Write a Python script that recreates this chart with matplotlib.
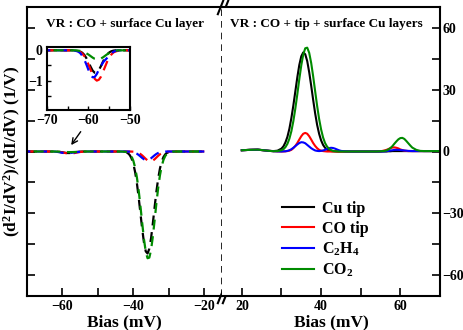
import matplotlib
matplotlib.use('Agg')
import matplotlib.pyplot as plt
from matplotlib.ticker import MultipleLocator

plt.rcParams['font.family'] = ['Liberation Serif', 'DejaVu Serif']
plt.rcParams['font.weight'] = 'bold'
plt.rcParams['axes.labelweight'] = 'bold'
plt.rcParams['mathtext.fontset'] = 'custom'
plt.rcParams['mathtext.rm'] = 'Liberation Serif:bold'
plt.rcParams['mathtext.bf'] = 'Liberation Serif:bold'
plt.rcParams['mathtext.it'] = 'Liberation Serif:bold:italic'
plt.rcParams['mathtext.default'] = 'rm'

# ---- data: negative bias (VR : CO + surface Cu layer) ----
bias_neg = [-70, -68, -66, -64,
            -63, -62.5, -62, -61.5, -61, -60.5, -60, -59.5, -59, -58.5, -58,
            -57.5, -57, -56.5, -56, -55.5, -55, -54.5, -54, -53.5, -53,
            -52, -50, -48, -46, -44, -43,
            -42, -41.5, -41, -40.5, -40, -39.5, -39, -38.5, -38, -37.5, -37,
            -36.5, -36, -35.5, -35, -34.5, -34, -33.5, -33, -32.5, -32, -31.5,
            -31, -30.5, -30,
            -29, -28, -26, -24, -22, -20]

cu_neg = [0, 0, 0, 0,
          -0.01, -0.01, -0.04, -0.08, -0.15, -0.26, -0.39, -0.54, -0.67, -0.74, -0.74,
          -0.65, -0.52, -0.37, -0.23, -0.13, -0.07, -0.03, -0.01, 0, 0,
          0, 0, 0, 0, 0, -0.07,
          -0.40, -0.87, -1.78, -3.39, -6.02, -9.98, -15.4, -22.3, -30.0, -37.7, -44.2,
          -48.4, -49.4, -47.1, -41.9, -34.7, -26.9, -19.4, -13.1, -8.22, -4.83, -2.64,
          -1.35, -0.64, -0.29,
          -0.05, 0, 0, 0, 0, 0]

co_neg = [0, 0, 0, 0,
          -0.01, -0.03, -0.05, -0.11, -0.19, -0.31, -0.47, -0.64, -0.81, -0.94, -1.00,
          -0.97, -0.87, -0.71, -0.54, -0.37, -0.23, -0.14, -0.07, -0.04, -0.02,
          0, 0, 0, 0, 0, 0,
          0, 0, -0.01, -0.04, -0.09, -0.20, -0.39, -0.73, -1.24, -1.92, -2.74,
          -3.58, -4.30, -4.73, -4.77, -4.41, -3.74, -2.91, -2.08, -1.36, -0.82, -0.45,
          -0.23, -0.11, -0.04,
          0, 0, 0, 0, 0, 0]

c2h4_neg = [0, 0, 0, 0,
            -0.02, -0.04, -0.09, -0.18, -0.31, -0.47, -0.65, -0.81, -0.89, -0.88, -0.78,
            -0.64, -0.52, -0.40, -0.32, -0.25, -0.17, -0.10, -0.05, -0.02, 0,
            0, 0, 0, 0, 0, 0,
            -0.01, -0.03, -0.08, -0.17, -0.35, -0.64, -1.08, -1.68, -2.40, -3.14, -3.76,
            -4.14, -4.17, -3.86, -3.27, -2.55, -1.82, -1.19, -0.71, -0.39, -0.20, -0.09,
            -0.04, 0, 0,
            0, 0, 0, 0, 0, 0]

co2_neg = [0, 0, 0, 0,
           0, -0.01, -0.02, -0.04, -0.06, -0.10, -0.14, -0.19, -0.24, -0.28, -0.30,
           -0.30, -0.27, -0.23, -0.18, -0.13, -0.09, -0.06, -0.03, -0.02, 0,
           0, 0, 0, 0, 0, -0.04,
           -0.25, -0.58, -1.23, -2.44, -4.52, -7.81, -12.6, -18.9, -26.6, -34.8, -42.6,
           -48.6, -51.7, -51.4, -47.6, -41.1, -33.2, -25.0, -17.6, -11.5, -7.04, -4.01,
           -2.14, -1.06, -0.49,
           -0.09, 0, 0, 0, 0, 0]

# ---- data: positive bias (VR : CO + tip + surface Cu layers) ----
bias_pos = [20, 22, 24, 26, 27, 28, 29,
            30, 30.5, 31, 31.5, 32, 32.5, 33, 33.5, 34, 34.5, 35, 35.5, 36, 36.5,
            37, 37.5, 38, 38.5, 39, 39.5, 40, 40.5, 41, 41.5, 42, 42.5, 43, 43.5,
            44, 44.5, 45,
            46, 48, 50, 52, 54, 55,
            56, 56.5, 57, 57.5, 58, 58.5, 59, 59.5, 60, 60.5, 61, 61.5, 62, 62.5, 63,
            64, 65, 66, 68, 70]

cu_pos = [0.6, 0.8, 0.9, 0.5, 0.3, 0.2, 0.4,
          1.4, 2.5, 4.4, 7.1, 11.0, 16.2, 22.3, 29.1, 35.9, 41.9, 46.1, 48.0, 47.1, 43.8,
          38.4, 31.9, 25.0, 18.5, 12.9, 8.6, 5.4, 3.2, 1.8, 0.9, 0.5, 0.2, 0.1, 0.1,
          0, 0, 0,
          0, 0, 0, 0, 0, 0,
          0, 0, 0.1, 0.1, 0.2, 0.2, 0.2, 0.2, 0.2, 0.2, 0.2, 0.2, 0.2, 0.2, 0.2,
          0.2, 0.2, 0.2, 0.2, 0.2]

co_pos = [0.6, 0.8, 0.9, 0.5, 0.3, 0.15, 0.05,
          0, 0, 0.1, 0.2, 0.4, 0.8, 1.6, 2.7, 4.1, 5.8, 7.4, 8.6, 9.0, 8.6,
          7.4, 5.8, 4.1, 2.7, 1.6, 0.8, 0.4, 0.2, 0.1, 0, 0, 0, 0, 0,
          0, 0, 0,
          0, 0, 0, 0, 0, 0.1,
          0.5, 0.8, 1.2, 1.6, 1.9, 2.0, 1.8, 1.5, 1.0, 0.7, 0.4, 0.3, 0.2, 0.2, 0.2,
          0.2, 0.2, 0.2, 0.2, 0.2]

c2h4_pos = [0.6, 0.8, 0.9, 0.5, 0.3, 0.15, 0.05,
            0, 0.1, 0.1, 0.3, 0.6, 1.1, 1.8, 2.6, 3.4, 4.1, 4.5, 4.4, 4.0, 3.2,
            2.4, 1.6, 1.0, 0.5, 0.3, 0.2, 0.3, 0.5, 0.8, 1.3, 1.6, 1.8, 1.7, 1.4,
            1.0, 0.6, 0.3,
            0.1, 0, 0, 0, 0, 0,
            0.1, 0.2, 0.3, 0.5, 0.6, 0.8, 0.8, 0.8, 0.7, 0.6, 0.5, 0.4, 0.3, 0.25, 0.2,
            0.2, 0.2, 0.2, 0.2, 0.2]

co2_pos = [0.6, 0.8, 0.9, 0.5, 0.3, 0.15, 0.2,
           0.6, 1.1, 2.1, 3.7, 6.2, 9.8, 14.7, 20.8, 27.7, 35.0, 41.7, 47.0, 50.0, 50.3,
           47.8, 42.9, 36.4, 29.2, 22.1, 15.8, 10.7, 6.8, 4.1, 2.4, 1.3, 0.7, 0.3, 0.1,
           0.1, 0, 0,
           0, 0, 0, 0, 0, 0.1,
           0.3, 0.5, 1.0, 1.7, 2.6, 3.8, 4.9, 5.9, 6.5, 6.6, 6.1, 5.1, 4.0, 2.9, 1.9,
           0.8, 0.3, 0.2, 0.2, 0.2]

labels = ['Cu tip', 'CO tip', 'C$_2$H$_4$', 'CO$_2$']
colors = ['black', 'red', 'blue', '#008b00']
neg_series = [cu_neg, co_neg, c2h4_neg, co2_neg]
pos_series = [cu_pos, co_pos, c2h4_pos, co2_pos]

W, H = 463, 330
fig = plt.figure(figsize=(W / 100, H / 100), dpi=100)
axL = fig.add_axes([27 / W, 34 / H, 195 / W, 289 / H])
axR = fig.add_axes([222 / W, 34 / H, 218 / W, 289 / H])
axI = fig.add_axes([47 / W, 220 / H, 83 / W, 63 / H])

# dashed curves: offset the dash phase per curve so the colours interleave
for i, (ys, c) in enumerate(zip(neg_series, colors)):
    dash = (i * 1.5, (4.5, 3))
    axL.plot(bias_neg, ys, color=c, lw=1.6, linestyle=dash)
    axI.plot(bias_neg, ys, color=c, lw=1.6, linestyle=dash)
for ys, c, lab in zip(pos_series, colors, labels):
    axR.plot(bias_pos, ys, color=c, lw=1.5, label=lab)

for ax in (axL, axR, axI):
    for sp in ax.spines.values():
        sp.set_linewidth(1.5)

# left panel
axL.set_xlim(-70, -15)
axL.set_ylim(-70, 70)
axL.spines['right'].set_visible(False)
axL.xaxis.set_major_locator(MultipleLocator(20))
axL.xaxis.set_minor_locator(MultipleLocator(10))
axL.yaxis.set_major_locator(MultipleLocator(30))
axL.yaxis.set_minor_locator(MultipleLocator(15))
axL.tick_params(which='both', direction='in', length=6, width=1.2,
                top=False, right=False, labelleft=False, labelsize=10, pad=3)
axL.set_xlabel('Bias (mV)', fontsize=12.5, labelpad=1)
axL.set_ylabel('(d$^2$I/dV$^2$)/(dI/dV) (1/V)', fontsize=12.5, labelpad=3)
axL.text(0.5, 0.941, 'VR : CO + surface Cu layer', transform=axL.transAxes,
         ha='center', va='center', fontsize=9.5, fontweight='bold')
axL.annotate('', xy=(-58, 2), xytext=(-54.4, 10.7),
             arrowprops=dict(arrowstyle='->', lw=1, color='black'))

# right panel
axR.set_xlim(15, 70)
axR.set_ylim(-70, 70)
axR.spines['left'].set_visible(False)
axR.xaxis.set_major_locator(MultipleLocator(20))
axR.xaxis.set_minor_locator(MultipleLocator(10))
axR.yaxis.set_major_locator(MultipleLocator(30))
axR.yaxis.set_minor_locator(MultipleLocator(15))
axR.tick_params(which='both', direction='in', length=6, width=1.2,
                top=False, left=False, right=True, labelleft=False,
                labelright=True, labelsize=10, pad=3)
axR.tick_params(axis='y', pad=1.5)
axR.set_xlabel('Bias (mV)', fontsize=12.5, labelpad=1)
axR.text(0.48, 0.941, 'VR : CO + tip + surface Cu layers', transform=axR.transAxes,
         ha='center', va='center', fontsize=9.5, fontweight='bold')
axR.legend(loc='upper left', bbox_to_anchor=(0.274, 0.33), frameon=False,
           fontsize=11.5, handlelength=2.0, handletextpad=0.5,
           labelspacing=0.25, borderpad=0, borderaxespad=0)

# inset
axI.set_xlim(-70, -50)
axI.set_ylim(-1.97, 0.11)
axI.xaxis.set_major_locator(MultipleLocator(10))
axI.xaxis.set_minor_locator(MultipleLocator(5))
axI.yaxis.set_major_locator(MultipleLocator(1))
axI.yaxis.set_minor_locator(MultipleLocator(0.5))
axI.tick_params(which='both', direction='in', length=3, width=1,
                labelsize=10, pad=3)

# axis break: dashed separator and // marks
axL.plot([1, 1], [0, 1], transform=axL.transAxes, color='black', lw=1.2,
         linestyle=(0, (4, 3)), clip_on=False)
brk = dict(marker=[(-0.4, -1), (0.4, 1)], markersize=11, linestyle='none',
           color='black', mec='black', mew=1.5, clip_on=False,
           transform=axL.transAxes)
axL.plot([0.99, 1.013], [1, 1], **brk)
axL.plot([0.99, 1.013], [0, 0], **brk)

fig.savefig('out.png', dpi=100)
